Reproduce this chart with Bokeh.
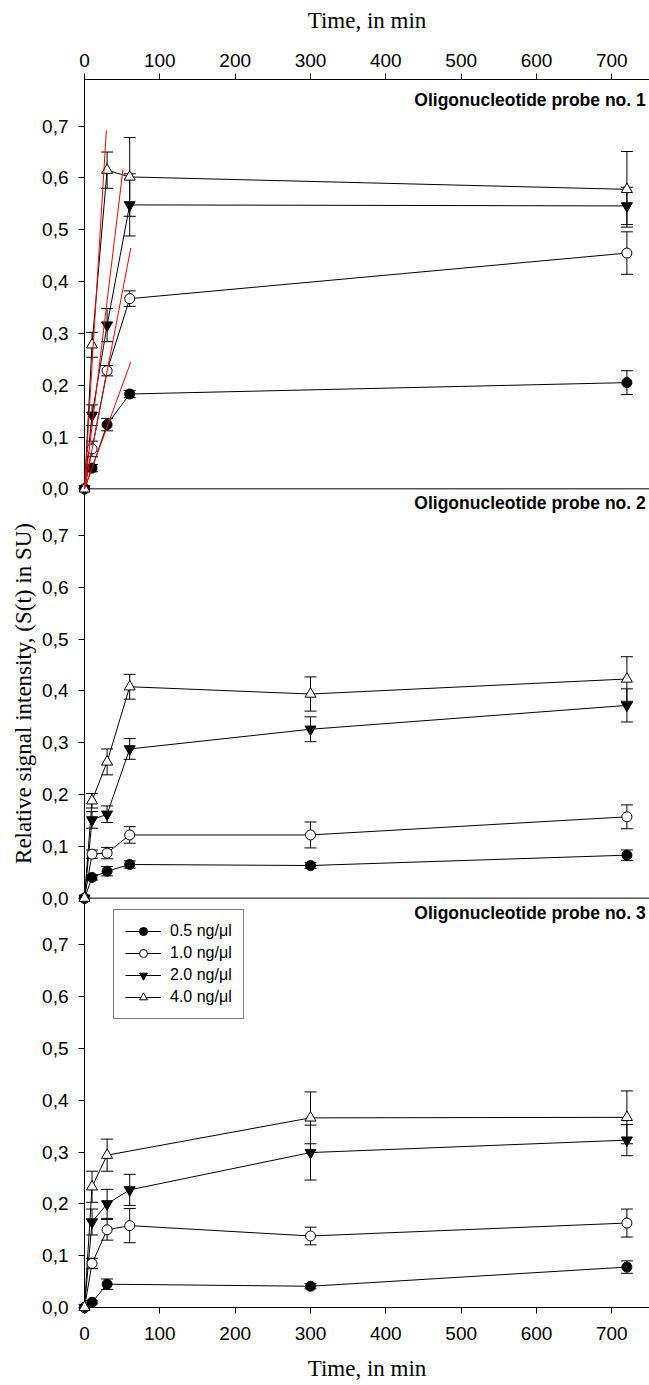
from bokeh.plotting import figure
from bokeh.models import (Range1d, LinearAxis, FixedTicker, CustomJSTickFormatter,
                          ColumnDataSource, Whisker, TeeHead, Legend, LegendItem, Label)
from bokeh.embed import file_html
from bokeh.resources import INLINE

# ---------------- data ----------------
series_labels = ["0.5 ng/\u03bcl", "1.0 ng/\u03bcl", "2.0 ng/\u03bcl", "4.0 ng/\u03bcl"]
panel_titles = ["Oligonucleotide probe no. 1", "Oligonucleotide probe no. 2",
                "Oligonucleotide probe no. 3"]
x_ticks = [0, 100, 200, 300, 400, 500, 600, 700]
y_ticks = [0.0, 0.1, 0.2, 0.3, 0.4, 0.5, 0.6, 0.7]

# Panel 1 (probe no. 1)
p1_time = [0, 10, 30, 60, 720]
p1_y_05 = [0, 0.040, 0.124, 0.183, 0.205]
p1_e_05 = [0, 0.007, 0.012, 0.007, 0.023]
p1_y_10 = [0, 0.077, 0.228, 0.367, 0.455]
p1_e_10 = [0, 0.015, 0.010, 0.015, 0.041]
p1_y_20 = [0, 0.142, 0.316, 0.548, 0.546]
p1_e_20 = [0, 0.020, 0.032, 0.060, 0.036]
p1_y_40 = [0, 0.278, 0.615, 0.602, 0.578]
p1_e_40 = [0, 0.024, 0.035, 0.076, 0.073]
# initial-slope lines (red), from the origin to these end points
red_t_end = [61.5, 61.5, 51, 29]
red_y_end = [0.245, 0.465, 0.616, 0.692]

# Panel 2 (probe no. 2)
p2_time = [0, 10, 30, 60, 300, 720]
p2_y_05 = [0, 0.040, 0.052, 0.065, 0.063, 0.083]
p2_e_05 = [0, 0.005, 0.009, 0.007, 0.006, 0.010]
p2_y_10 = [0, 0.085, 0.087, 0.122, 0.122, 0.157]
p2_e_10 = [0, 0.008, 0.011, 0.016, 0.025, 0.023]
p2_y_20 = [0, 0.151, 0.162, 0.288, 0.326, 0.372]
p2_e_20 = [0, 0.016, 0.016, 0.020, 0.024, 0.032]
p2_y_40 = [0, 0.188, 0.263, 0.408, 0.394, 0.423]
p2_e_40 = [0, 0.014, 0.025, 0.024, 0.033, 0.043]

# Panel 3 (probe no. 3)
p3_t_05 = [0, 10, 30, 300, 720]
p3_y_05 = [0, 0.010, 0.045, 0.041, 0.078]
p3_e_05 = [0, 0.003, 0.010, 0.005, 0.012]
p3_t_10 = [0, 10, 30, 60, 300, 720]
p3_y_10 = [0, 0.085, 0.150, 0.158, 0.138, 0.163]
p3_e_10 = [0, 0.010, 0.020, 0.033, 0.017, 0.027]
p3_t_20 = [0, 10, 30, 60, 300, 720]
p3_y_20 = [0, 0.165, 0.200, 0.227, 0.299, 0.323]
p3_e_20 = [0, 0.025, 0.028, 0.030, 0.053, 0.030]
p3_t_40 = [0, 10, 30, 300, 720]
p3_y_40 = [0, 0.233, 0.294, 0.366, 0.367]
p3_e_40 = [0, 0.030, 0.031, 0.050, 0.051]

# ---------------- layout / style ----------------
PANEL_SPAN = 0.79
X_END = 750
SANS = "Liberation Sans"
SERIF = "Liberation Serif"
markers = ["circle", "circle", "inverted_triangle", "triangle"]
fills = ["black", "white", "black", "white"]
sizes = [10, 10, 11, 11]

p = figure(width=649, height=1385, output_backend="svg", toolbar_location=None,
           x_range=Range1d(0, X_END), y_range=Range1d(0, 3 * PANEL_SPAN),
           x_axis_location=None, y_axis_location=None,
           min_border_left=84, min_border_right=0, min_border_top=79, min_border_bottom=78)
p.outline_line_color = None
p.xgrid.visible = False
p.ygrid.visible = False
p.background_fill_color = "white"
p.border_fill_color = "white"

# axes
yt = [round(k * PANEL_SPAN + v, 4) for k in range(3) for v in y_ticks]
yfmt = CustomJSTickFormatter(code=f"""
const s = {PANEL_SPAN};
const k = Math.floor((tick + 1e-6) / s);
const v = Math.max(0, tick - k * s);
return v.toFixed(1).replace('.', ',');
""")
yaxis = LinearAxis(ticker=FixedTicker(ticks=yt), formatter=yfmt,
                   axis_label="Relative signal intensity, (S(t) in SU)")
xtop = LinearAxis(ticker=FixedTicker(ticks=x_ticks), axis_label="Time, in min")
xbot = LinearAxis(ticker=FixedTicker(ticks=x_ticks), axis_label="Time, in min")
for ax in (yaxis, xtop, xbot):
    ax.minor_tick_line_color = None
    ax.major_tick_out = 6
    ax.major_tick_in = 0
    ax.axis_line_color = "black"
    ax.major_tick_line_color = "black"
    ax.major_label_text_font = SANS
    ax.major_label_text_font_size = "19px"
    ax.major_label_text_color = "black"
    ax.axis_label_text_font = SERIF
    ax.axis_label_text_font_style = "normal"
    ax.axis_label_text_font_size = "23px"
    ax.axis_label_text_color = "black"
yaxis.major_label_standoff = 10
yaxis.axis_label_standoff = 3
xtop.major_label_standoff = 7
xtop.axis_label_standoff = 18
xbot.major_label_standoff = 13
xbot.axis_label_standoff = 13
p.add_layout(yaxis, "left")
p.add_layout(xtop, "above")
p.add_layout(xbot, "below")

# panel separator lines (bottom axis line of panels 1 and 2)
p.segment(x0=[0, 0], y0=[PANEL_SPAN, 2 * PANEL_SPAN], x1=[X_END, X_END],
          y1=[PANEL_SPAN, 2 * PANEL_SPAN], line_color="black", line_width=1)

panels = [
    (2 * PANEL_SPAN, [(p1_time, p1_y_05, p1_e_05), (p1_time, p1_y_10, p1_e_10),
                      (p1_time, p1_y_20, p1_e_20), (p1_time, p1_y_40, p1_e_40)]),
    (1 * PANEL_SPAN, [(p2_time, p2_y_05, p2_e_05), (p2_time, p2_y_10, p2_e_10),
                      (p2_time, p2_y_20, p2_e_20), (p2_time, p2_y_40, p2_e_40)]),
    (0.0, [(p3_t_05, p3_y_05, p3_e_05), (p3_t_10, p3_y_10, p3_e_10),
           (p3_t_20, p3_y_20, p3_e_20), (p3_t_40, p3_y_40, p3_e_40)]),
]

legend_renderers = {}
for pi, (off, series) in enumerate(panels):
    for si, (t, y, e) in enumerate(series):
        et = [tt for tt, ee in zip(t, e) if ee > 0]
        eu = [v + off + ee for v, ee in zip(y, e) if ee > 0]
        el = [v + off - ee for v, ee in zip(y, e) if ee > 0]
        esrc = ColumnDataSource(dict(x=et, upper=eu, lower=el))
        w = Whisker(source=esrc, base="x", upper="upper", lower="lower",
                    line_color="black", line_width=1,
                    upper_head=TeeHead(size=12, line_color="black", line_width=1),
                    lower_head=TeeHead(size=12, line_color="black", line_width=1))
        p.add_layout(w)
    for si, (t, y, e) in enumerate(series):
        ys = [v + off for v in y]
        src = ColumnDataSource(dict(x=t, y=ys))
        lr = p.line("x", "y", source=src, line_color="black", line_width=1)
        legend_renderers.setdefault(si, []).append(lr)
    for si, (t, y, e) in enumerate(series):
        ys = [v + off for v in y]
        src = ColumnDataSource(dict(x=t, y=ys))
        sr = p.scatter("x", "y", source=src, marker=markers[si], size=sizes[si],
                       fill_color=fills[si], line_color="black", line_width=1,
                       level="overlay")
        legend_renderers[si].append(sr)

# red initial slope lines in panel 1
off1 = 2 * PANEL_SPAN
p.segment(x0=[0] * len(red_t_end), y0=[off1] * len(red_t_end), x1=red_t_end,
          y1=[v + off1 for v in red_y_end], line_color="red", line_width=1,
          level="overlay")

# panel titles
title_y = [3 * PANEL_SPAN - 0.040, 2 * PANEL_SPAN - 0.028, PANEL_SPAN - 0.028]
for txt, ty in zip(panel_titles, title_y):
    p.add_layout(Label(x=745, y=ty, text=txt, text_align="right", text_baseline="middle",
                       text_font=SANS, text_font_style="bold", text_font_size="17.5px",
                       text_color="black"))

# legend
items = [LegendItem(label=series_labels[i], renderers=legend_renderers[i][:2])
         for i in range(4)]
legend = Legend(items=items, location=(29, 288), orientation="vertical",
                border_line_color="black", border_line_width=1,
                background_fill_color="white", background_fill_alpha=1,
                label_text_font=SANS, label_text_font_size="16px", label_text_color="black",
                glyph_width=36, glyph_height=20, label_height=20, spacing=2,
                padding=11, margin=0, label_standoff=9)
p.add_layout(legend, "center")

open("out.html", "w").write(file_html(p, INLINE))
